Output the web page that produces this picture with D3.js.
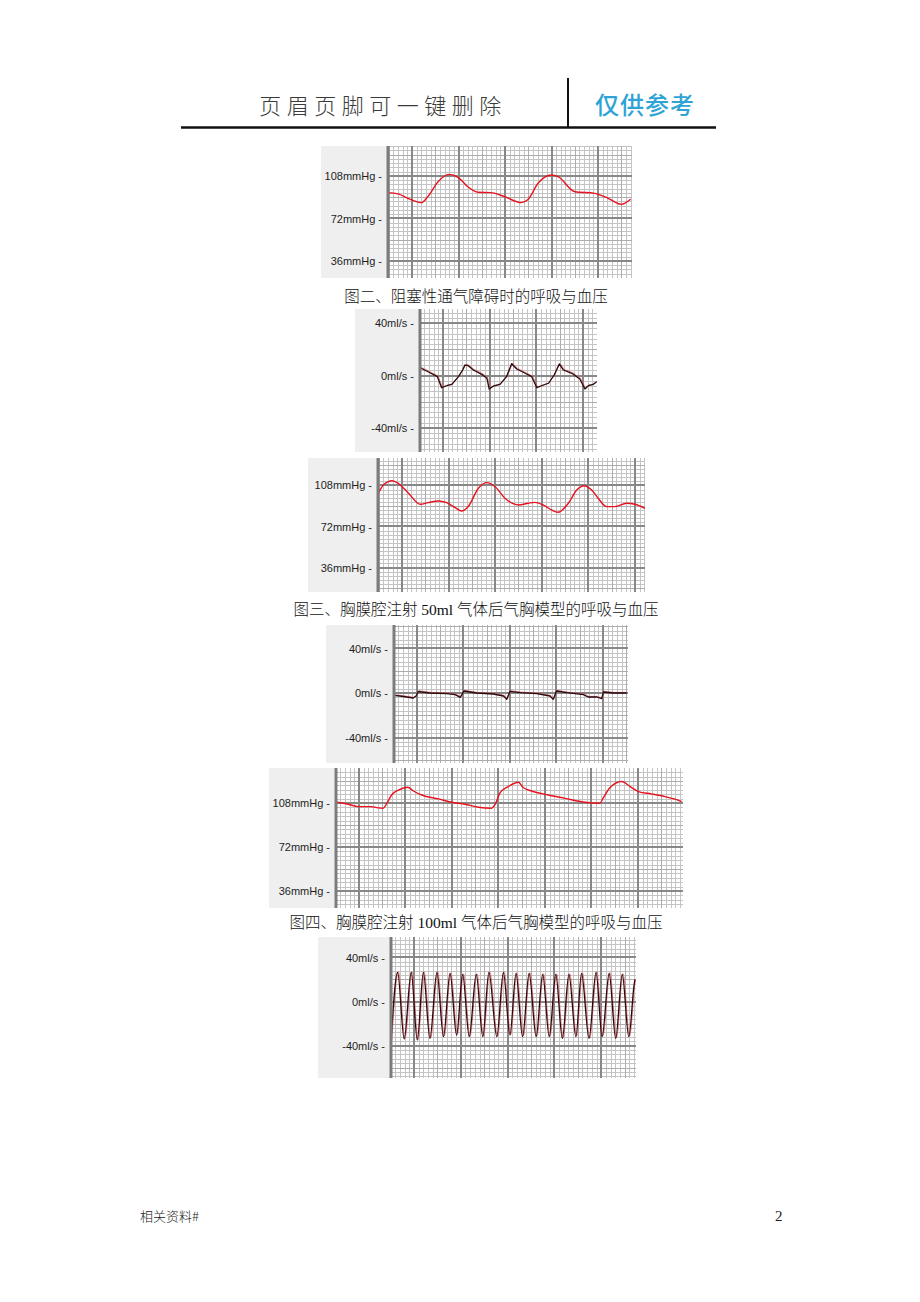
<!DOCTYPE html>
<html><head><meta charset="utf-8">
<script src="https://cdn.jsdelivr.net/npm/d3@7"></script>
<style>body{margin:0;background:#fff}svg{display:block}</style>
</head><body>
<script>
// ---------- data ----------
const bpTicks = [108, 72, 36];
const flowTicks = [40, 0, -40];
const captions = [
  "图二、阻塞性通气障碍时的呼吸与血压",
  "图三、胸膜腔注射 50ml 气体后气胸模型的呼吸与血压",
  "图四、胸膜腔注射 100ml 气体后气胸模型的呼吸与血压"
];
const headerLeft = "页眉页脚可一键删除";
const headerRight = "仅供参考";
const footerLeft = "相关资料#";
const footerRight = "2";

// [time (major divisions), mmHg]
const bp1 = [[-0.52,93.9],[-0.30,92.8],[-0.09,89.1],[0.20,85.4],[0.34,90.5],[0.56,103.2],[0.80,109.4],[0.99,106.9],[1.20,98.9],[1.42,94.2],[1.70,93.9],[1.99,90.5],[2.35,85.4],[2.50,88.3],[2.71,101.8],[3.00,108.8],[3.14,107.4],[3.50,94.7],[3.93,93.3],[4.22,89.1],[4.50,84.0],[4.70,88.3]];
// [time, ml/s]
const flow1 = [[-0.49,5.9],[-0.32,2.9],[-0.12,-0.9],[-0.03,-9.3],[0.08,-7.8],[0.19,-6.7],[0.33,-0.9],[0.42,4.2],[0.47,8.0],[0.54,7.5],[0.65,4.2],[0.83,0.9],[0.94,-2.1],[0.99,-10.3],[1.08,-8.0],[1.22,-6.7],[1.36,-0.9],[1.47,9.0],[1.58,5.0],[1.76,1.7],[1.90,-0.9],[2.01,-9.3],[2.11,-7.8],[2.26,-5.9],[2.38,0.4],[2.49,8.8],[2.58,4.2],[2.76,1.7],[2.93,-2.7],[3.04,-10.3],[3.11,-7.8],[3.22,-6.7],[3.29,-4.7]];
const bp2 = [[-0.54,98.2],[-0.40,108.4],[-0.21,112.2],[-0.08,109.9],[0.14,101.2],[0.39,91.5],[0.56,92.9],[0.78,94.4],[0.96,92.9],[1.14,88.5],[1.28,85.6],[1.42,89.4],[1.64,105.5],[1.82,110.5],[2.00,106.9],[2.21,96.8],[2.50,90.9],[2.71,92.4],[2.85,93.2],[3.03,90.9],[3.21,86.5],[3.35,84.5],[3.57,92.4],[3.75,104.0],[3.91,107.8],[4.07,104.0],[4.21,96.8],[4.39,89.4],[4.57,89.4],[4.82,92.4],[5.00,91.5],[5.21,88.0]];
const flow2 = [[-0.51,-2.1],[-0.37,-2.7],[-0.22,-3.6],[-0.08,-4.5],[-0.02,-2.7],[0.03,1.5],[0.10,0.9],[0.28,0],[0.64,-0.6],[0.82,-1.5],[0.93,-3.9],[1.01,1.8],[1.28,0],[1.64,-0.9],[1.86,-2.7],[1.93,-5.7],[2.00,1.5],[2.22,0.3],[2.57,-0.6],[2.86,-2.7],[2.93,-5.7],[3.00,1.8],[3.22,0.3],[3.58,-1.5],[3.68,-3.6],[3.87,-3.6],[3.97,-5.1],[4.01,0.9],[4.22,0],[4.51,0]];
const bp3 = [[-0.48,108.6],[-0.23,107.0],[-0.02,105.0],[0.27,105.0],[0.38,104.2],[0.52,103.7],[0.60,107.8],[0.70,114.5],[0.85,118.6],[1.05,120.8],[1.17,117.8],[1.35,114.5],[1.71,111.3],[1.99,108.6],[2.28,107.0],[2.57,104.5],[2.85,103.7],[2.93,107.0],[3.03,116.0],[3.21,121.4],[3.43,125.0],[3.53,120.6],[3.71,117.8],[4.07,114.5],[4.43,111.8],[4.86,108.6],[5.18,107.8],[5.25,111.9],[5.40,120.6],[5.65,125.5],[5.83,121.4],[6.01,117.3],[6.29,115.4],[6.58,113.2],[6.80,111.1],[6.94,109.1]];
const flow3 = [[-0.49,-35.0],[-0.35,26.5],[-0.21,-34.1],[-0.06,26.5],[0.07,-35.0],[0.20,26.5],[0.34,-33.5],[0.49,26.5],[0.63,-32.0],[0.77,25.6],[0.91,-30.5],[1.04,24.7],[1.18,-32.0],[1.33,24.7],[1.47,-32.0],[1.60,26.5],[1.77,-32.0],[1.91,26.5],[2.05,-30.5],[2.18,25.6],[2.32,-32.0],[2.46,25.6],[2.61,-32.0],[2.75,24.7],[2.89,-32.0],[3.03,24.7],[3.17,-33.5],[3.31,24.7],[3.46,-32.0],[3.58,25.6],[3.74,-33.5],[3.89,26.5],[4.02,-32.0],[4.17,25.6],[4.31,-33.5],[4.45,24.7],[4.59,-32.0],[4.70,14.0],[4.72,20.0]];

// ---------- layout ----------
const W = 920, H = 1302;
const panels = [
  {kind:"bp",   data:bp1,   box:[321,146,632,278], plotLeft:387, x:[-0.538,4.731], y:[133.4,21.6]},
  {kind:"flow", data:flow1, box:[355,309,597,452], plotLeft:419, x:[-0.514,3.298], y:[50.7,-58.3]},
  {kind:"bp",   data:bp2,   box:[308,458,645,592], plotLeft:377, x:[-0.536,5.215], y:[132.1,14.5]},
  {kind:"flow", data:flow2, box:[326,625,628,763], plotLeft:393, x:[-0.516,4.538], y:[61.1,-62.9]},
  {kind:"bp",   data:bp3,   box:[269,768,683,908], plotLeft:335, x:[-0.516,6.968], y:[136.6,22.1]},
  {kind:"flow", data:flow3, box:[318,937,636,1078], plotLeft:390, x:[-0.513,4.744], y:[58.6,-69.5]}
];

const svg = d3.select("body").append("svg").attr("width", W).attr("height", H);

// header
svg.append("text").attr("x", 383).attr("y", 114).attr("text-anchor","middle")
  .attr("font-family","'Noto Sans CJK SC'").attr("font-weight",300).attr("font-size",22)
  .attr("letter-spacing",5.5).attr("fill","#3a3a3a").text(headerLeft);
svg.append("text").attr("x", 645).attr("y", 114).attr("text-anchor","middle")
  .attr("font-family","'Noto Sans CJK SC'").attr("font-weight",500).attr("font-size",24)
  .attr("letter-spacing",1).attr("fill","#2ea3d5").text(headerRight);
svg.append("line").attr("x1",568).attr("x2",568).attr("y1",78).attr("y2",127)
  .attr("stroke","#111").attr("stroke-width",2);
svg.append("line").attr("x1",181).attr("x2",716).attr("y1",127.5).attr("y2",127.5)
  .attr("stroke","#111").attr("stroke-width",2.5);

// footer
svg.append("text").attr("x",140).attr("y",1221).attr("font-family","'Noto Sans CJK SC'")
  .attr("font-weight",300).attr("font-size",13).attr("fill","#222").text(footerLeft);
svg.append("text").attr("x",775).attr("y",1221).attr("font-family","'Liberation Serif'")
  .attr("font-size",15).attr("fill","#222").text(footerRight);

// captions
const capY = [302, 615, 928];
captions.forEach((c,i) => {
  svg.append("text").attr("x",476).attr("y",capY[i]).attr("text-anchor","middle")
    .attr("font-family","'Liberation Serif','Noto Sans CJK SC'").attr("font-weight",300)
    .attr("font-size",15.5).attr("fill","#111").text(c);
});

function range(a, b, step) {
  const out = [];
  const s = Math.ceil(a/step - 1e-9), e = Math.floor(b/step + 1e-9);
  for (let k = s; k <= e; k++) out.push(+(k*step).toFixed(6));
  return out;
}

panels.forEach((p, idx) => {
  const [bx0, by0, bx1, by1] = p.box;
  const g = svg.append("g");
  g.append("rect").attr("x",bx0).attr("y",by0).attr("width",bx1-bx0).attr("height",by1-by0)
    .attr("fill","#efefef");
  g.append("rect").attr("x",p.plotLeft).attr("y",by0).attr("width",bx1-p.plotLeft).attr("height",by1-by0)
    .attr("fill","#ffffff");

  const x = d3.scaleLinear().domain(p.x).range([p.plotLeft, bx1]);
  const y = d3.scaleLinear().domain(p.y).range([by0, by1]);
  const yMajor = p.kind === "bp" ? 36 : 40;
  const yLo = Math.min(...p.y), yHi = Math.max(...p.y);

  const clipId = "clip" + idx;
  g.append("clipPath").attr("id", clipId).append("rect")
    .attr("x",p.plotLeft).attr("y",by0).attr("width",bx1-p.plotLeft).attr("height",by1-by0);
  const pg = g.append("g").attr("clip-path", `url(#${clipId})`);

  const grid = pg.append("g").attr("shape-rendering","crispEdges");
  // minor
  range(p.x[0], p.x[1], 0.1).forEach(t => {
    grid.append("line").attr("x1",Math.round(x(t))+0.5).attr("x2",Math.round(x(t))+0.5)
      .attr("y1",by0).attr("y2",by1).attr("stroke","#c4c4c4").attr("stroke-width",1);
  });
  range(yLo, yHi, yMajor/10).forEach(v => {
    grid.append("line").attr("y1",Math.round(y(v))+0.5).attr("y2",Math.round(y(v))+0.5)
      .attr("x1",p.plotLeft).attr("x2",bx1).attr("stroke","#c4c4c4").attr("stroke-width",1);
  });
  // medium
  range(p.x[0], p.x[1], 0.5).forEach(t => {
    grid.append("line").attr("x1",Math.round(x(t))+0.5).attr("x2",Math.round(x(t))+0.5)
      .attr("y1",by0).attr("y2",by1).attr("stroke","#acacac").attr("stroke-width",1);
  });
  range(yLo, yHi, yMajor/2).forEach(v => {
    grid.append("line").attr("y1",Math.round(y(v))+0.5).attr("y2",Math.round(y(v))+0.5)
      .attr("x1",p.plotLeft).attr("x2",bx1).attr("stroke","#acacac").attr("stroke-width",1);
  });
  // major
  range(p.x[0], p.x[1], 1).forEach(t => {
    grid.append("line").attr("x1",Math.round(x(t))).attr("x2",Math.round(x(t)))
      .attr("y1",by0).attr("y2",by1).attr("stroke","#888888").attr("stroke-width",2);
  });
  range(yLo, yHi, yMajor).forEach(v => {
    grid.append("line").attr("y1",Math.round(y(v))).attr("y2",Math.round(y(v)))
      .attr("x1",p.plotLeft).attr("x2",bx1).attr("stroke","#888888").attr("stroke-width",2);
  });

  // trace
  if (p.kind === "bp") {
    const line = d3.line().x(d => x(d[0])).y(d => y(d[1])).curve(d3.curveMonotoneX);
    pg.append("path").datum(p.data).attr("d", line).attr("fill","none")
      .attr("stroke","#e8121f").attr("stroke-width",1.4).attr("stroke-linejoin","round");
  } else {
    const smooth = idx === 5;
    const line = d3.line().x(d => x(d[0])).y(d => y(d[1]))
      .curve(smooth ? d3.curveMonotoneX : d3.curveLinear);
    pg.append("path").datum(p.data).attr("d", line).attr("fill","none")
      .attr("transform","translate(0.8,-0.6)")
      .attr("stroke","#e0505a").attr("stroke-width",1).attr("opacity",0.7);
    pg.append("path").datum(p.data).attr("d", line).attr("fill","none")
      .attr("stroke","#2b0a0c").attr("stroke-width",1.3).attr("stroke-linejoin","round");
  }

  // left border of plot
  g.append("line").attr("x1",p.plotLeft+1).attr("x2",p.plotLeft+1).attr("y1",by0).attr("y2",by1)
    .attr("stroke","#7c7c7c").attr("stroke-width",3);

  // axis labels via d3 axis
  const ticks = p.kind === "bp" ? bpTicks : flowTicks;
  const unit = p.kind === "bp" ? "mmHg" : "ml/s";
  const axis = d3.axisLeft(y).tickValues(ticks).tickSize(0).tickPadding(4)
    .tickFormat(v => `${v}${unit} -`);
  const ag = g.append("g").attr("transform",`translate(${p.plotLeft-1},0)`).call(axis);
  ag.select(".domain").remove();
  ag.selectAll("text").attr("font-family","'Liberation Sans', Arial, sans-serif")
    .attr("font-size",11).attr("fill","#1e1e1e");
});
</script>
</body></html>
